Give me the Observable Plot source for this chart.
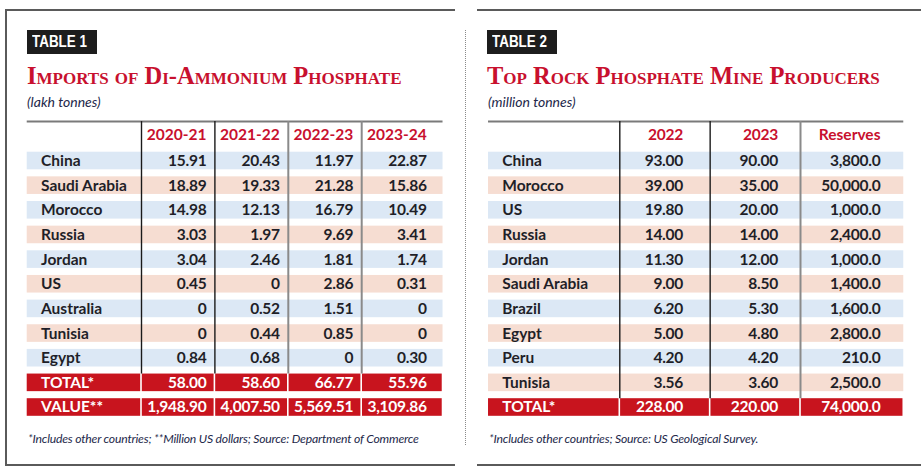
<!DOCTYPE html>
<html><head><meta charset="utf-8">
<script src="https://cdn.jsdelivr.net/npm/d3@7"></script>
<script src="https://cdn.jsdelivr.net/npm/@observablehq/plot@0.6"></script>
<style>
html,body{margin:0;padding:0;background:#fff}
body{width:921px;height:471px;position:relative;overflow:hidden;font-family:Lato,"Noto Sans",sans-serif}
.panel{position:absolute;top:9px;height:457px;box-sizing:border-box}
#p1{left:5px;width:450px;border-left:2px solid #5a5a5a;border-top:2px solid #5a5a5a;border-bottom:2px solid #5a5a5a}
#p2{left:477px;width:444px;border-top:2px solid #5a5a5a;border-bottom:2px solid #5a5a5a}
#sep{position:absolute;left:465px;top:30px;height:415px;border-left:1px dotted #8a8a8a}
.tag{position:absolute;top:30px;height:24px;width:70px;box-sizing:border-box;background:#1d1d1d;color:#fff;overflow:hidden;
  font:bold 17px "Liberation Sans",sans-serif;line-height:24px;padding-left:5px;white-space:nowrap}
.tag span{display:inline-block;transform:scaleX(0.79);transform-origin:0 50%}
.title{position:absolute;top:64px;font-family:"Liberation Serif",serif;font-weight:bold;font-variant:small-caps;color:#c8102e;font-size:24.5px;line-height:24.5px;white-space:nowrap}
.sub{position:absolute;top:95px;font-style:italic;font-size:14px;line-height:14px;color:#23284a;white-space:nowrap}
.foot{position:absolute;top:433px;font-style:italic;font-size:12.2px;line-height:12.5px;color:#23284a;white-space:nowrap;letter-spacing:-0.2px}
.tbl{position:absolute;top:110px}
</style></head>
<body>
<div class="panel" id="p1"></div>
<div class="panel" id="p2"></div>
<div id="sep"></div>
<div class="tag" style="left:27px"><span>TABLE 1</span></div>
<div class="tag" style="left:487px"><span>TABLE 2</span></div>
<div class="title" style="left:27px">Imports of Di-Ammonium Phosphate</div>
<div class="title" style="left:487px">Top Rock Phosphate Mine Producers</div>
<div class="sub" style="left:27px">(lakh tonnes)</div>
<div class="sub" style="left:488px">(million tonnes)</div>
<div class="tbl" id="t1" style="left:10px"></div>
<div class="tbl" id="t2" style="left:470px"></div>
<div class="foot" style="left:28px">*Includes other countries; **Million US dollars; Source: Department of Commerce</div>
<div class="foot" style="left:489px">*Includes other countries; Source: US Geological Survey.</div>
<script>
// ---------- DATA ----------
const t1Countries = ["China","Saudi Arabia","Morocco","Russia","Jordan","US","Australia","Tunisia","Egypt"];
const t1Years = ["2020-21","2021-22","2022-23","2023-24"];
const t1Y2020_21 = [15.91,18.89,14.98,3.03,3.04,0.45,0,0,0.84];
const t1Y2021_22 = [20.43,19.33,12.13,1.97,2.46,0,0.52,0.44,0.68];
const t1Y2022_23 = [11.97,21.28,16.79,9.69,1.81,2.86,1.51,0.85,0];
const t1Y2023_24 = [22.87,15.86,10.49,3.41,1.74,0.31,0,0,0.30];
const t1SummaryLabels = ["TOTAL*","VALUE**"];
const t1Total = [58.00,58.60,66.77,55.96];
const t1Value = [1948.90,4007.50,5569.51,3109.86];

const t2Countries = ["China","Morocco","US","Russia","Jordan","Saudi Arabia","Brazil","Egypt","Peru","Tunisia"];
const t2Cols = ["2022","2023","Reserves"];
const t2Prod2022 = [93.00,39.00,19.80,14.00,11.30,9.00,6.20,5.00,4.20,3.56];
const t2Prod2023 = [90.00,35.00,20.00,14.00,12.00,8.50,5.30,4.80,4.20,3.60];
const t2Reserves = [3800,50000,1000,2400,1000,1400,1600,2800,210,2500];
const t2SummaryLabels = ["TOTAL*"];
const t2Total = [228.00,220.00,74000.0];

// ---------- STYLE / LAYOUT ----------
const BLUE = "#dce8f5", PINK = "#f6ddd2", RED = "#c8141e", HEAD_RED = "#c8102e", INK = "#1f1f28";
const DARK = "#1a1a1a", GREY = "#8a8a8a";
const FONT = "Lato, 'Noto Sans', sans-serif";
const common = {svgTop:110, rowPx:24.65, centerY:160.5, half:0.357, headerRow:-1.055, headerLine:-1.6, height:315};

const f2 = d3.format(".2f"), f2c = d3.format(",.2f"), f1c = d3.format(",.1f");
const t1Fmt = v => v === 0 ? "0" : f2(v);

function drawTable(el, spec, L) {
  const n = spec.rows.length;
  const nc = spec.cols.length;
  const C = common;
  const bg = spec.rows.map((label, i) => ({label, i}));
  const cells = [];
  spec.columns.forEach((col, j) => col.forEach((v, i) => cells.push({row: i, col: j, text: spec.fmt[j](v)})));
  const sumRows = spec.summary.map((s, k) => ({label: s.label, i: n + k}));
  const sumCells = [];
  spec.summary.forEach((s, k) => s.values.forEach((v, j) => sumCells.push({row: n + k, col: j, text: s.fmt[j](v)})));
  const colEdge = j => j === nc - 1 ? L.lastEdge : j + 1;
  const hdr = spec.cols.map((c, j) => ({c, j}));
  const dividers = d3.range(nc);
  const txt = {fontFamily: FONT, fontWeight: "bold", fontSize: 15.5, lineAnchor: "middle"};

  const chart = Plot.plot({
    width: L.width, height: C.height, margin: 0,
    style: {background: "transparent", fontFamily: FONT, overflow: "visible"},
    x: {type: "linear", domain: [0, 1], range: [L.originX - L.svgLeft, L.originX - L.svgLeft + L.unitPx], axis: null},
    y: {type: "linear", domain: [0, 1], range: [C.centerY - C.svgTop, C.centerY - C.svgTop + C.rowPx], axis: null},
    marks: [
      Plot.rect(bg, {x1: -L.labelUnits, x2: L.lastEdge, y1: d => d.i - C.half, y2: d => d.i + C.half,
        fill: d => d.i % 2 ? PINK : BLUE}),
      Plot.rect(sumRows, {x1: -L.labelUnits, x2: 0, y1: d => d.i - C.half, y2: d => d.i + C.half, fill: RED, insetRight: 0.8}),
      Plot.rect(sumCells, {x1: d => d.col, x2: d => colEdge(d.col), y1: d => d.row - C.half, y2: d => d.row + C.half,
        fill: RED, insetLeft: 0.8, insetRight: 0.8}),
      Plot.ruleY([C.headerLine], {x1: -L.labelUnits, x2: L.lastEdge, stroke: "#7a7a7a", strokeWidth: 2}),
      Plot.ruleX(dividers.filter(j => L.dividerDark[j]), {x: d => d, y1: C.headerLine, y2: n - C.half, stroke: DARK, strokeWidth: 1.4}),
      Plot.ruleX(dividers.filter(j => !L.dividerDark[j]), {x: d => d, y1: C.headerLine, y2: n - C.half, stroke: GREY, strokeWidth: 2}),
      Plot.text(hdr, {x: d => L.textX[d.j], y: C.headerRow, text: d => d.c, textAnchor: "end", fill: HEAD_RED, ...txt}),
      Plot.text(bg, {x: -L.labelUnits + L.labelInset, y: d => d.i, text: d => d.label, textAnchor: "start", fill: INK, ...txt}),
      Plot.text(cells, {x: d => L.textX[d.col], y: d => d.row, text: d => d.text, textAnchor: "end", fill: INK, ...txt}),
      Plot.text(sumRows, {x: -L.labelUnits + L.labelInset, y: d => d.i, text: d => d.label, textAnchor: "start", fill: "#fff", ...txt}),
      Plot.text(sumCells, {x: d => L.textX[d.col], y: d => d.row, text: d => d.text, textAnchor: "end", fill: "#fff", ...txt})
    ]
  });
  // typographic tweak: slightly tighter figures, as in the reference face
  chart.querySelectorAll("text").forEach(t => {
    if (/^[\d.,]+$/.test(t.textContent)) t.setAttribute("letter-spacing", "-0.25");
  });
  el.appendChild(chart);
}

drawTable(document.getElementById("t1"), {
  rows: t1Countries, cols: t1Years,
  columns: [t1Y2020_21, t1Y2021_22, t1Y2022_23, t1Y2023_24],
  fmt: [t1Fmt, t1Fmt, t1Fmt, t1Fmt],
  summary: [
    {label: t1SummaryLabels[0], values: t1Total, fmt: [f2, f2, f2, f2]},
    {label: t1SummaryLabels[1], values: t1Value, fmt: [f2c, f2c, f2c, f2c]}
  ]
}, {svgLeft: 10, width: 445, originX: 141, unitPx: 73.4, labelUnits: 1.557, lastEdge: 4.108, labelInset: 0.188,
    textX: [0.885, 1.885, 2.885, 3.885], dividerDark: [true, true, false, false]});

drawTable(document.getElementById("t2"), {
  rows: t2Countries, cols: t2Cols,
  columns: [t2Prod2022, t2Prod2023, t2Reserves],
  fmt: [f2, f2, f1c],
  summary: [{label: t2SummaryLabels[0], values: t2Total, fmt: [f2, f2, f1c]}]
}, {svgLeft: 470, width: 445, originX: 619.3, unitPx: 90.35, labelUnits: 1.453, lastEdge: 3.143, labelInset: 0.152,
    textX: [0.70, 1.75, 2.885], dividerDark: [true, true, false]});
</script>
</body></html>
